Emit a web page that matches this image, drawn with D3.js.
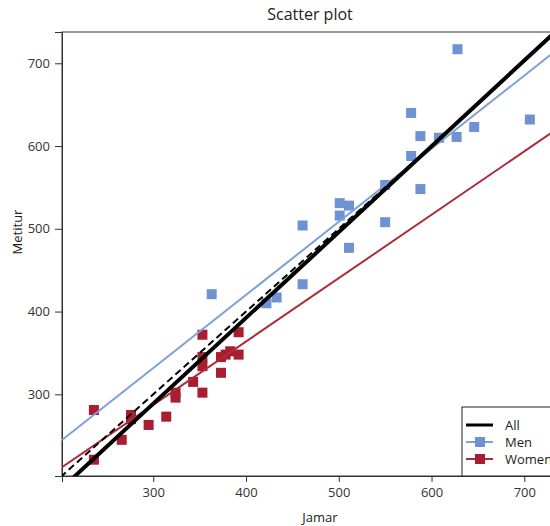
<!DOCTYPE html>
<html>
<head>
<meta charset="utf-8">
<script src="https://cdn.jsdelivr.net/npm/d3@7"></script>
<style>
  html, body { margin: 0; padding: 0; background: #fff; }
  svg { display: block; font-family: "Open Sans", "Noto Sans", sans-serif; }
</style>
</head>
<body>
<svg id="chart" width="550" height="526"></svg>
<script>
// Jamar vs Metitur grip strength, by group
const menJamar    = [628, 578, 588, 608, 627, 646, 706, 578, 588, 550, 550, 501, 511, 501, 461, 511, 461, 433, 363, 422];
const menMetitur  = [717, 640, 612, 610, 611, 623, 632, 588, 548, 553, 508, 531, 528, 516, 504, 477, 433, 417, 421, 410];

const womenJamar   = [236, 236, 266, 276, 276, 295, 314, 324, 324, 343, 353, 353, 353, 353, 373, 378, 373, 383, 392, 392];
const womenMetitur = [281, 221, 245, 275, 270, 263, 273, 302, 296, 315, 372, 345, 334, 302, 345, 348, 326, 352, 375, 348];

// Fitted lines: [intercept, slope]
const fitAll   = [-22.2, 1.0365];
const fitMen   = [66.7, 0.8835];
const fitWomen = [57.4, 0.766];
// Line of identity (y = x) and the Jamar span it is drawn over
const identity = [0, 1];
const identitySpan = [200, 600];

const xTicks = [300, 400, 500, 600, 700];
const yTicks = [300, 400, 500, 600, 700];

const seriesNames = ["All", "Men", "Women"];

const blue = "#6e92d2";
const blueLine = "#7f9fd8";
const red = "#a81d2f";
const redLine = "#ad2c3a";

const svg = d3.select("#chart");
const plotLeft = 62, plotTop = 32, plotRight = 560, plotBottom = 476;

const x = d3.scaleLinear().domain([201.6, 738.5]).range([plotLeft, plotRight]);
const y = d3.scaleLinear().domain([201.3, 737.8]).range([plotBottom, plotTop]);

svg.append("defs").append("clipPath").attr("id", "plotClip")
  .append("rect").attr("x", plotLeft).attr("y", plotTop)
  .attr("width", plotRight - plotLeft).attr("height", plotBottom - plotTop);

// Title
svg.append("text")
  .attr("x", 310).attr("y", 20)
  .attr("text-anchor", "middle")
  .attr("font-size", 16).attr("fill", "#222")
  .text("Scatter plot");

// Frame
svg.append("rect")
  .attr("x", plotLeft).attr("y", plotTop)
  .attr("width", plotRight - plotLeft).attr("height", plotBottom - plotTop)
  .attr("fill", "none").attr("stroke", "#333").attr("stroke-width", 1);

// Axes
const xAxis = svg.append("g")
  .attr("transform", `translate(0,${plotBottom})`)
  .call(d3.axisBottom(x).tickValues(xTicks).tickSize(6).tickPadding(6));
const yAxis = svg.append("g")
  .attr("transform", `translate(${plotLeft},0)`)
  .call(d3.axisLeft(y).tickValues(yTicks).tickSize(7).tickPadding(5));

[xAxis, yAxis].forEach(g => {
  g.select(".domain").attr("stroke", "#333");
  g.selectAll(".tick line").attr("stroke", "#333");
  g.selectAll(".tick text")
    .attr("font-size", 13).attr("fill", "#333")
    .attr("font-family", "\"Open Sans\", sans-serif");
});

// Axis titles
svg.append("text")
  .attr("x", 320).attr("y", 522)
  .attr("text-anchor", "middle")
  .attr("font-size", 13).attr("fill", "#222")
  .text("Jamar");
svg.append("text")
  .attr("transform", "translate(22,232) rotate(-90)")
  .attr("text-anchor", "middle")
  .attr("font-size", 13).attr("fill", "#222")
  .text("Metitur");

const plot = svg.append("g").attr("clip-path", "url(#plotClip)");

const sq = 10;
const men = menJamar.map((v, i) => [v, menMetitur[i]]);
const women = womenJamar.map((v, i) => [v, womenMetitur[i]]);

plot.append("g").selectAll("rect").data(men).join("rect")
  .attr("x", d => x(d[0]) - sq / 2).attr("y", d => y(d[1]) - sq / 2)
  .attr("width", sq).attr("height", sq)
  .attr("fill", blue);

plot.append("g").selectAll("rect").data(women).join("rect")
  .attr("x", d => x(d[0]) - sq / 2).attr("y", d => y(d[1]) - sq / 2)
  .attr("width", sq).attr("height", sq)
  .attr("fill", red);

function fitLine(fit, span, color, width, dash) {
  const pts = span.map(v => [v, fit[0] + fit[1] * v]);
  plot.append("path")
    .attr("d", d3.line().x(d => x(d[0])).y(d => y(d[1]))(pts))
    .attr("fill", "none").attr("stroke", color)
    .attr("stroke-width", width)
    .attr("stroke-dasharray", dash || null);
}
const fullSpan = x.domain();
fitLine(fitMen, fullSpan, blueLine, 2);
fitLine(fitWomen, fullSpan, redLine, 2);
fitLine(identity, identitySpan, "#000", 2, "7,4");
fitLine(fitAll, fullSpan, "#000", 4);

// Legend
const lg = svg.append("g").attr("transform", "translate(462,407)");
lg.append("rect")
  .attr("x", 0).attr("y", 0).attr("width", 120).attr("height", plotBottom - 407)
  .attr("fill", "#fff").attr("stroke", "#222").attr("stroke-width", 1);
const legendStyle = [
  { color: "#000", width: 3, marker: null },
  { color: blueLine, width: 2, marker: blue },
  { color: redLine, width: 2, marker: red }
];
seriesNames.forEach((name, i) => {
  const cy = 18 + i * 17;
  const st = legendStyle[i];
  lg.append("line")
    .attr("x1", 4).attr("x2", 31).attr("y1", cy).attr("y2", cy)
    .attr("stroke", st.color).attr("stroke-width", st.width);
  if (st.marker) {
    lg.append("rect")
      .attr("x", 18 - sq / 2).attr("y", cy - sq / 2)
      .attr("width", sq).attr("height", sq)
      .attr("fill", st.marker);
  }
  lg.append("text")
    .attr("x", 43).attr("y", cy + 5)
    .attr("font-size", 13).attr("fill", "#222")
    .text(name);
});
</script>
</body>
</html>
